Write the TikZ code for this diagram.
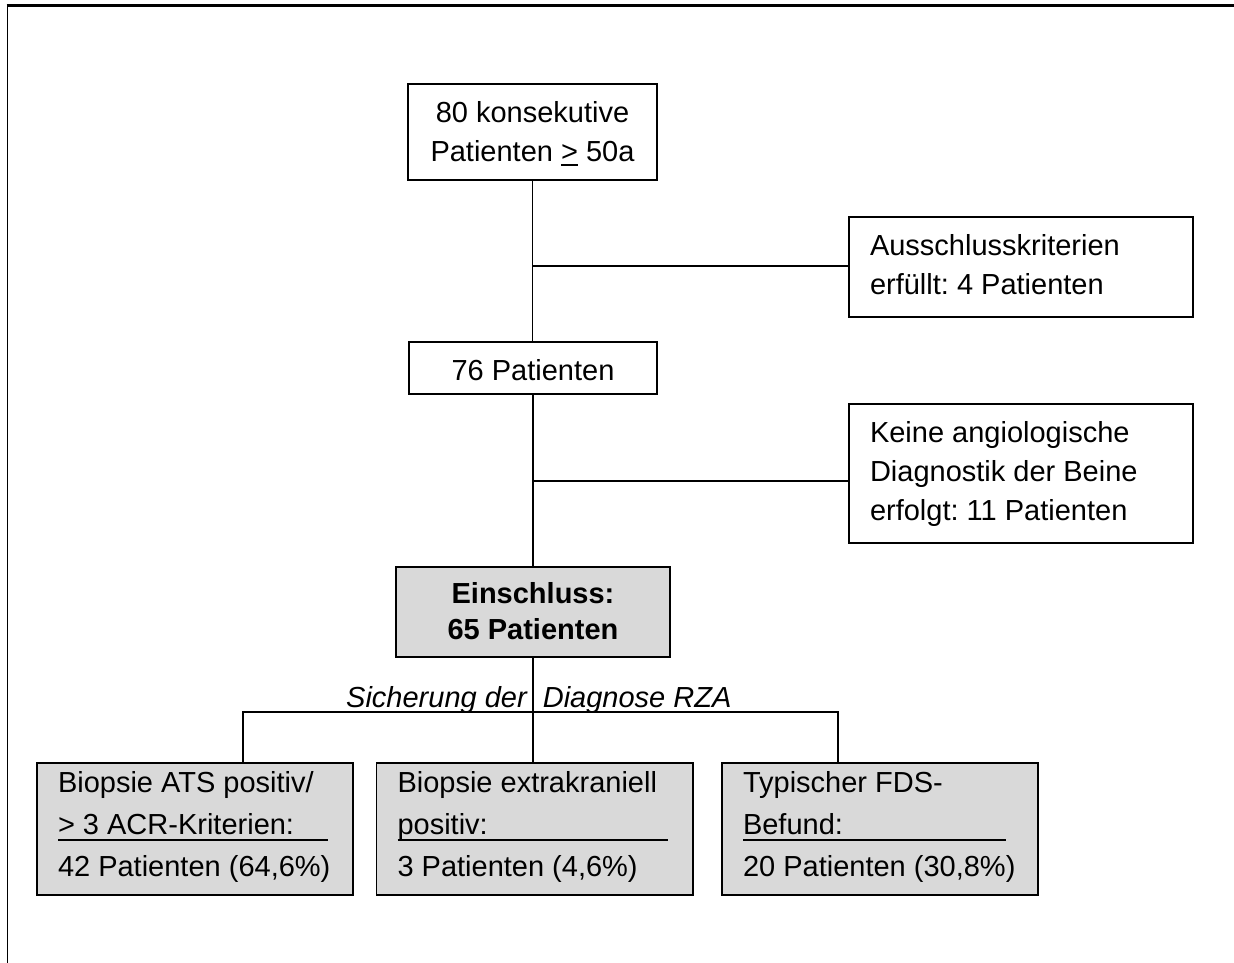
\documentclass[tikz,border=0pt]{standalone}
\usepackage{fontspec}
\setmainfont{Liberation Sans}
\frenchspacing
\definecolor{boxgray}{HTML}{D9D9D9}
\newdimen\linew
\newcommand\ulbar[3]{\rlap{\rule[-#2]{#1}{2.2pt}}#3}
\newcommand\Lft[1]{\hbox to \linew{#1\hfil}}
\newcommand\Ctr[1]{\hbox to \linew{\hfil#1\hfil}}
\tikzset{
  bx/.style={draw=black, line width=1.8pt, inner ysep=0pt, outer sep=0pt,
    anchor=north west, font=\fontsize{29}{39}\selectfont\frenchspacing},
  gbx/.style={bx, fill=boxgray, font=\fontsize{29}{42}\selectfont\frenchspacing},
  conn/.style={line width=1.8pt, draw=black},
}
\begin{document}
\begin{tikzpicture}[x=1pt,y=-1pt]
\useasboundingbox (0,0) rectangle (1234,963);
% outer frame
\draw[line width=1.8pt] (7.5,963) -- (7.5,5.5);
\draw[line width=3pt] (6.6,5.5) -- (1234,5.5);

\node[bx, inner xsep=10pt, text height=39pt, text depth=57pt] (n80) at (408,84)
  {\linew=229pt\vtop{\Ctr{80 konsekutive}\Ctr{Patienten \ulbar{17pt}{4pt}{>} 50a}}};
\node[bx, inner xsep=21pt, text height=38pt, text depth=62pt] (aus) at (849,217)
  {\linew=302pt\vtop{\Lft{Ausschlusskriterien}\Lft{erfüllt: 4 Patienten}}};
\node[bx, inner xsep=10pt, text height=38pt, text depth=14pt] (n76) at (409,342)
  {\linew=228pt\vtop{\Ctr{76 Patienten}}};
\node[bx, inner xsep=21pt, text height=38pt, text depth=101pt] (keine) at (849,404)
  {\linew=302pt\vtop{\Lft{Keine angiologische}\Lft{Diagnostik der Beine}\Lft{erfolgt: 11 Patienten}}};
\node[bx, fill=boxgray, inner xsep=10pt, text height=36pt, text depth=54pt,
  font=\fontsize{29}{36}\selectfont\bfseries] (ein) at (396,567)
  {\linew=254pt\vtop{\Ctr{Einschluss:}\Ctr{65 Patienten}}};

\node[gbx, inner xsep=21pt, text height=29pt, text depth=103pt] (bA) at (37,763)
  {\linew=274pt\vtop{\Lft{Biopsie ATS positiv/}\Lft{\ulbar{270pt}{7pt}{> 3 ACR-Kriterien:}}\Lft{42 Patienten (64,6\%)}}};
\node[gbx, inner xsep=21pt, text height=29pt, text depth=103pt] (bB) at (376.5,763)
  {\linew=274.5pt\vtop{\Lft{Biopsie extrakraniell}\Lft{\ulbar{270pt}{7pt}{positiv:}}\Lft{3 Patienten (4,6\%)}}};
\node[gbx, inner xsep=21pt, text height=29pt, text depth=103pt] (bC) at (722,763)
  {\linew=273.6pt\vtop{\Lft{Typischer FDS-}\Lft{\ulbar{263pt}{7pt}{Befund:}}\Lft{20 Patienten (30,8\%)}}};

\node[anchor=base west, inner sep=0pt, font=\itshape\fontsize{29}{39}\selectfont] (lab) at (346,707)
  {Sicherung der\ \ Diagnose RZA};

% connectors
\coordinate (j1) at (533,266);
\coordinate (j2) at (533,481);
\coordinate (jl) at (243,712);
\coordinate (jr) at (838,712);
\draw[conn] (n80.south) -- (n80.south |- n76.north);
\draw[conn] (j1) -- (j1 -| aus.west);
\draw[conn] (n76.south) -- (n76.south |- ein.north);
\draw[conn] (j2) -- (j2 -| keine.west);
\draw[conn] (ein.south) -- (ein.south |- bB.north);
\draw[conn] (jl |- bA.north) -- (jl) -- (jr) -- (jr |- bC.north);
\end{tikzpicture}
\end{document}
